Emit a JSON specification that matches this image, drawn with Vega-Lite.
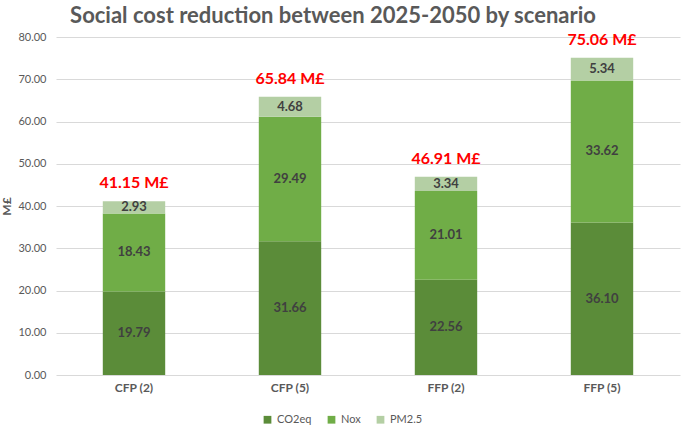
{
  "$schema": "https://vega.github.io/schema/vega-lite/v6.json",
  "width": 624,
  "height": 338,
  "autosize": {"type": "none"},
  "padding": {"left": 56, "top": 37, "right": 5, "bottom": 52},
  "background": "white",
  "title": {
    "text": "Social cost reduction between 2025-2050 by scenario",
    "font": "Lato",
    "fontSize": 22,
    "fontWeight": "bold",
    "color": "#595959",
    "anchor": "middle",
    "frame": "group",
    "dx": -35,
    "offset": 3
  },
  "config": {
    "font": "Lato",
    "view": {"stroke": null}
  },
  "datasets": {
    "values": [
      {"scenario": "CFP (2)", "pollutant": "CO2eq", "value": 19.79},
      {"scenario": "CFP (2)", "pollutant": "Nox", "value": 18.43},
      {"scenario": "CFP (2)", "pollutant": "PM2.5", "value": 2.93},
      {"scenario": "CFP (5)", "pollutant": "CO2eq", "value": 31.66},
      {"scenario": "CFP (5)", "pollutant": "Nox", "value": 29.49},
      {"scenario": "CFP (5)", "pollutant": "PM2.5", "value": 4.68},
      {"scenario": "FFP (2)", "pollutant": "CO2eq", "value": 22.56},
      {"scenario": "FFP (2)", "pollutant": "Nox", "value": 21.01},
      {"scenario": "FFP (2)", "pollutant": "PM2.5", "value": 3.34},
      {"scenario": "FFP (5)", "pollutant": "CO2eq", "value": 36.10},
      {"scenario": "FFP (5)", "pollutant": "Nox", "value": 33.62},
      {"scenario": "FFP (5)", "pollutant": "PM2.5", "value": 5.34}
    ],
    "totals": [
      {"scenario": "CFP (2)", "total": 41.15, "label": "41.15 M£"},
      {"scenario": "CFP (5)", "total": 65.84, "label": "65.84 M£"},
      {"scenario": "FFP (2)", "total": 46.91, "label": "46.91 M£"},
      {"scenario": "FFP (5)", "total": 75.06, "label": "75.06 M£"}
    ]
  },
  "layer": [
    {
      "data": {"name": "values"},
      "mark": {"type": "bar"},
      "encoding": {
        "x": {
          "field": "scenario",
          "type": "nominal",
          "sort": null,
          "scale": {"paddingInner": 0.6, "paddingOuter": 0.3},
          "axis": {
            "title": null,
            "labelAngle": 0,
            "labelFontWeight": "bold",
            "labelFontSize": 12,
            "labelColor": "#595959",
            "ticks": false,
            "domain": false,
            "labelPadding": 7
          }
        },
        "y": {
          "field": "value",
          "type": "quantitative",
          "stack": "zero",
          "scale": {"domain": [0, 80], "nice": false},
          "axis": {
            "values": [0, 10, 20, 30, 40, 50, 60, 70, 80],
            "format": ".2f",
            "title": "M£",
            "titleFontWeight": "bold",
            "titleFontSize": 12,
            "titleColor": "#595959",
            "titlePadding": 4,
            "labelFontSize": 11,
            "labelColor": "#595959",
            "labelPadding": 10,
            "ticks": false,
            "domain": false,
            "gridColor": "#D9D9D9",
            "gridWidth": 1
          }
        },
        "color": {
          "field": "pollutant",
          "type": "nominal",
          "scale": {
            "domain": ["CO2eq", "Nox", "PM2.5"],
            "range": ["#5B8C39", "#70AD47", "#B4CFA4"]
          },
          "legend": {
            "title": null,
            "orient": "none",
            "direction": "horizontal",
            "legendX": 206,
            "legendY": 377,
            "symbolType": "square",
            "symbolSize": 60,
            "symbolStrokeWidth": 0,
            "labelFontSize": 11,
            "labelColor": "#595959",
            "columnPadding": 14
          }
        },
        "order": {"field": "pollutant", "type": "nominal", "sort": "ascending"}
      }
    },
    {
      "data": {"name": "values"},
      "transform": [
        {"stack": "value", "groupby": ["scenario"], "sort": [{"field": "pollutant", "order": "ascending"}], "as": ["v0", "v1"]},
        {"calculate": "(datum.v0 + datum.v1) / 2", "as": "mid"}
      ],
      "mark": {"type": "text", "fontWeight": "bold", "fontSize": 13, "color": "#404040"},
      "encoding": {
        "x": {"field": "scenario", "type": "nominal", "sort": null},
        "y": {"field": "mid", "type": "quantitative"},
        "text": {"field": "value", "type": "quantitative", "format": ".2f"}
      }
    },
    {
      "data": {"name": "totals"},
      "mark": {"type": "text", "fontWeight": "bold", "fontSize": 16, "color": "#FF0000", "baseline": "bottom", "dy": -10},
      "encoding": {
        "x": {"field": "scenario", "type": "nominal", "sort": null},
        "y": {"field": "total", "type": "quantitative"},
        "text": {"field": "label", "type": "nominal"}
      }
    }
  ]
}
